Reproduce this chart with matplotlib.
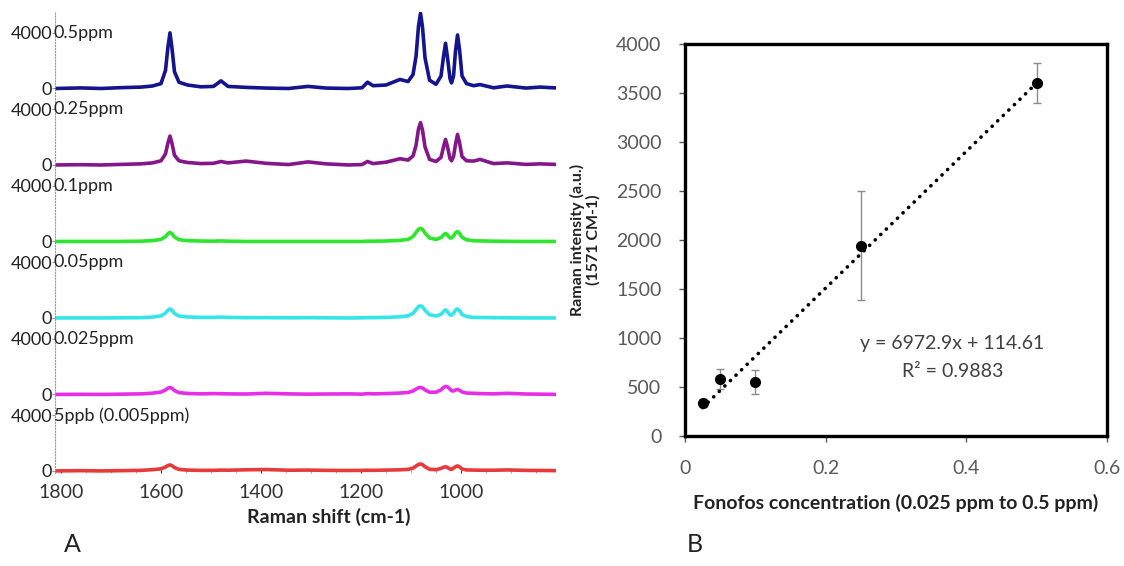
"""
Fonofos SERS spectra (A) and calibration curve (B)
"""

import matplotlib
matplotlib.use('Agg')
import matplotlib.pyplot as plt
import numpy as np

plt.rcParams['font.family'] = ['Lato', 'DejaVu Sans']

# ---- panel A: stacked spectra ----
shift = [1812, 1760, 1720, 1680, 1640, 1617, 1600, 1591, 1586, 1582, 1578, 1573, 1564, 1547,
         1520, 1495, 1480, 1466, 1430, 1390, 1345, 1306, 1270, 1225, 1198, 1187, 1176, 1150,
         1122, 1106, 1096, 1090, 1085, 1081, 1077, 1072, 1063, 1050, 1040, 1035, 1031, 1027,
         1022, 1019, 1015, 1011, 1007, 1003, 998, 989, 975, 962, 935, 908, 870, 842, 810]

spec_05 = [0, 40, 0, 60, 100, 180, 350, 1300, 3000, 4000, 2900, 1200, 450, 250,
           120, 150, 550, 150, 80, 30, 0, 150, 30, 0, 50, 450, 200, 250,
           650, 500, 1000, 2300, 4500, 5400, 4400, 2200, 600, 300, 900, 2300, 3250, 2200,
           700, 400, 900, 2700, 3850, 2800, 900, 350, 200, 280, 50, 180, 30, 100, 40]
spec_025 = [0, 20, 0, 40, 80, 150, 300, 800, 1600, 2080, 1550, 700, 300, 180,
            100, 120, 250, 150, 280, 120, 30, 220, 80, 0, 30, 250, 100, 200,
            450, 350, 650, 1400, 2600, 3040, 2500, 1300, 400, 250, 550, 1300, 1840, 1300,
            450, 300, 600, 1500, 2200, 1600, 600, 300, 280, 400, 100, 150, 40, 80, 40]
spec_01 = [0, 0, 0, 0, 20, 60, 150, 350, 560, 650, 550, 320, 130, 60,
           30, 20, 40, 20, 0, 0, 0, 0, 0, 0, 0, 20, 20, 30,
           80, 150, 350, 650, 880, 940, 870, 600, 250, 150, 280, 470, 580, 460,
           250, 250, 400, 620, 720, 580, 300, 120, 50, 40, 20, 10, 0, 0, 0]
spec_005 = [0, 0, 0, 10, 20, 60, 150, 350, 560, 650, 550, 320, 140, 70,
            40, 40, 60, 40, 20, 20, 10, 20, 10, 0, 10, 20, 20, 40,
            80, 150, 330, 600, 820, 870, 800, 550, 230, 140, 260, 460, 580, 450,
            220, 200, 350, 560, 650, 520, 250, 100, 40, 30, 20, 10, 0, 0, 0]
spec_0025 = [0, 10, 0, 20, 40, 90, 170, 320, 450, 500, 440, 280, 130, 70,
             40, 60, 50, 40, 30, 80, 40, 20, 30, 40, 20, 60, 40, 60,
             100, 140, 250, 380, 480, 500, 460, 330, 160, 160, 330, 500, 580, 540,
             380, 270, 250, 320, 360, 300, 180, 100, 80, 60, 40, 80, 30, 20, 0]
spec_0005 = [0, 20, 0, 20, 40, 90, 150, 280, 390, 430, 380, 240, 110, 60,
             40, 40, 60, 50, 80, 100, 50, 60, 40, 30, 40, 50, 40, 60,
             80, 110, 200, 350, 470, 500, 450, 300, 120, 90, 180, 270, 300, 250,
             130, 110, 200, 310, 360, 290, 140, 70, 60, 50, 50, 70, 40, 30, 20]

spectra = [spec_05, spec_025, spec_01, spec_005, spec_0025, spec_0005]
names = ['0.5ppm', '0.25ppm', '0.1ppm', '0.05ppm', '0.025ppm', '5ppb (0.005ppm)']
colors = ['#14148c', '#85168a', '#2ee62e', '#35e6e6', '#e62ee6', '#e83a3a']
step = 5500

# ---- panel B: calibration ----
conc = [0.025, 0.05, 0.1, 0.25, 0.5]
intensity = [340, 580, 550, 1940, 3600]
err = [40, 100, 120, 555, 205]
slope, intercept = 6972.9, 114.61

fig = plt.figure(figsize=(11.24, 5.66), dpi=100)

axA = fig.add_axes([0.0489, 0.1643, 0.4458, 0.8145])
n = len(spectra)
yt, ytl = [], []
for i, (s, name, c) in enumerate(zip(spectra, names, colors)):
    off = (n - 1 - i) * step
    axA.plot(shift, np.array(s) + off, color=c, lw=2.6, solid_joinstyle='round')
    axA.text(1814, off + 4000, name, ha='left', va='center', fontsize=13, color='#222222')
    yt += [off, off + 4000]
    ytl += ['0', '4000']
axA.set_yticks(yt)
axA.set_yticklabels(ytl, fontsize=13, color='#222222')
axA.set_xlim(1812, 810)
axA.set_ylim(-150, 33000)
axA.set_xticks([1800, 1600, 1400, 1200, 1000])
axA.set_xticks(np.arange(850, 1801, 50), minor=True)
axA.tick_params(axis='x', labelsize=14, colors='#333333', length=2, direction='in', pad=8)
axA.tick_params(axis='x', which='minor', length=2, direction='in', color='#999999')
axA.tick_params(axis='y', length=2, color='#999999', pad=0)
for side in ['top', 'right', 'bottom']:
    axA.spines[side].set_visible(False)
axA.spines['left'].set_linestyle(':')
axA.spines['left'].set_color('#999999')
axA.set_xlabel('Raman shift (cm-1)', fontsize=14, fontweight='bold', color='#222222')
axA.xaxis.set_label_coords(0.547, -0.076)
fig.text(0.064, 0.018, 'A', fontsize=18, color='#222222', va='bottom', ha='center')

axB = fig.add_axes([0.6094, 0.2297, 0.3754, 0.6926])
axB.errorbar(conc, intensity, yerr=err, fmt='none', ecolor='#8c8c8c', elinewidth=1,
             capsize=3, capthick=1, zorder=2)
axB.plot(conc, intensity, 'o', color='black', ms=7, zorder=3)
trend_x = np.array([conc[0], conc[-1]])
axB.plot(trend_x, slope * trend_x + intercept, color='black', lw=2.6,
         linestyle=(0, (0.05, 2.1)), dash_capstyle='round', zorder=2)
axB.text(0.38, 940, 'y = 6972.9x + 114.61', ha='center', va='center', fontsize=14,
         color='#404040')
axB.text(0.38, 660, 'R² = 0.9883', ha='center', va='center', fontsize=14, color='#404040')
axB.set_xlim(0, 0.6)
axB.set_ylim(0, 4000)
axB.set_xticks([0, 0.2, 0.4, 0.6])
axB.set_xticklabels(['0', '0.2', '0.4', '0.6'])
axB.set_yticks(np.arange(0, 4001, 500))
axB.tick_params(labelsize=14, labelcolor='#595959', color='#595959', length=4, width=1, pad=13)
for sp in axB.spines.values():
    sp.set_linewidth(2.4)
axB.set_xlabel('Fonofos concentration (0.025 ppm to 0.5 ppm)', fontsize=14,
               fontweight='bold', color='#222222')
axB.xaxis.set_label_coords(0.5, -0.147)
axB.set_ylabel('Raman intensity (a.u.)\n(1571 CM-1)', fontsize=11.5, fontweight='bold',
               color='#222222', linespacing=1.1)
axB.yaxis.set_label_coords(-0.2, 0.5)
fig.text(0.618, 0.018, 'B', fontsize=18, color='#222222', va='bottom', ha='center')

plt.savefig('out.png', dpi=100)
plt.close()
